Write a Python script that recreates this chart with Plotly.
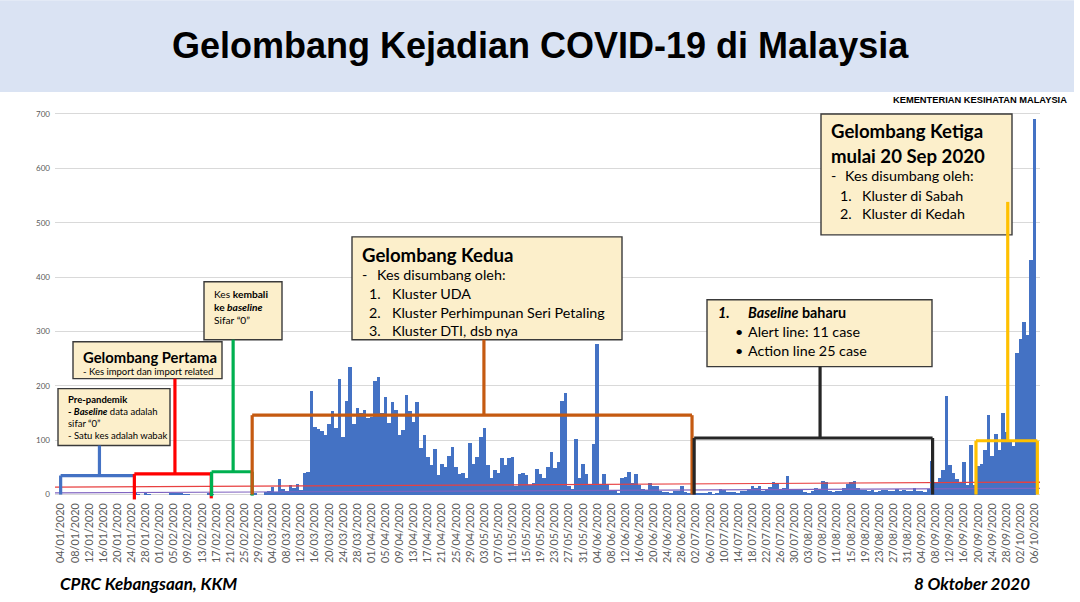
import plotly.graph_objects as go
from datetime import datetime, timedelta

# ---------------- data ----------------
START = datetime(2020, 1, 4)
cases_jan = [0]*21 + [3, 1, 0, 3, 1, 0, 0]                      # 04/01 - 31/01
cases_feb = [0, 0, 0, 2, 2, 2, 2, 1, 1, 0, 0, 0, 0, 0, 2, 1,
             0, 0, 0, 0, 0, 0, 0, 0, 0, 0, 1, 2, 0]
cases_mar = [0, 4, 7, 14, 5, 28, 10, 6, 18, 12, 20, 9, 39, 41, 190, 125, 120, 117,
             110, 130, 153, 123, 212, 106, 172, 235, 130, 159, 150, 156, 140]
cases_apr = [142, 208, 217, 150, 179, 131, 170, 156, 109, 118, 184, 153, 134, 170, 85,
             110, 69, 54, 84, 36, 57, 50, 71, 88, 51, 38, 40, 31, 94, 57]
cases_may = [69, 105, 122, 55, 30, 45, 39, 68, 54, 67, 70, 16, 37, 40, 36, 17, 22, 47,
             37, 31, 50, 78, 48, 60, 172, 187, 15, 10, 103, 30, 57]
cases_jun = [38, 20, 93, 277, 19, 37, 19, 7, 7, 2, 31, 33, 41, 22, 38, 17, 10, 8, 22,
             16, 15, 6, 5, 4, 3, 6, 7, 16, 5, 3]
cases_jul = [1, 2, 3, 3, 3, 4, 1, 2, 10, 8, 4, 4, 5, 2, 6, 7, 10, 15, 12, 15, 7, 8, 14,
             23, 21, 9, 12, 35, 8, 10, 8]
cases_aug = [9, 4, 2, 7, 12, 10, 25, 23, 7, 4, 6, 6, 13, 20, 24, 25, 13, 9, 9, 6, 8, 5,
             7, 8, 9, 6, 7, 10, 6, 9, 7]
cases_sep = [6, 13, 6, 7, 5, 10, 62, 22, 30, 45, 182, 55, 40, 28, 22, 59, 17, 92, 17, 52,
             57, 82, 147, 71, 111, 82, 150, 115, 101, 89]
cases_oct = [260, 287, 317, 293, 432, 691]

cases = (cases_jan + cases_feb + cases_mar + cases_apr + cases_may + cases_jun +
         cases_jul + cases_aug + cases_sep + cases_oct)
dates = [START + timedelta(days=i) for i in range(len(cases))]

# trend lines (value at left / right edge of plot)
red_line = [13.5, 23.0]
purple_line = [3.0, 11.5]

# ---------------- layout helpers ----------------
W, H = 1080, 602
L, R, T, B = 55, 40, 108, 101.5
PW, PH = W - L - R, H - T - B
Y0, Y1 = -10, 711
X0_DAY, X1_DAY = -1.70, 277.55


def d2s(day):
    return (START + timedelta(days=day)).strftime("%Y-%m-%d %H:%M:%S")


def fx(px):
    return (px - L) / PW


def fy(py):
    return (H - B - py) / PH


def val(py):
    return Y0 + (H - B - py) / PH * (Y1 - Y0)


fig = go.Figure()
fig.add_trace(go.Bar(x=dates, y=cases, marker_color="#4472C4",
                     marker_line_width=0, showlegend=False))

xl, xr = d2s(X0_DAY), d2s(X1_DAY)
fig.add_trace(go.Scatter(x=[xl, xr], y=red_line, mode="lines",
                         line=dict(color="#E84040", width=1.2), showlegend=False))
fig.add_trace(go.Scatter(x=[xl, xr], y=purple_line, mode="lines",
                         line=dict(color="#8064C0", width=1.2), showlegend=False))

shapes = []
# banner
shapes.append(dict(type="rect", xref="paper", yref="paper", x0=fx(0), x1=fx(1074),
                   y0=fy(92), y1=fy(0), fillcolor="#DAE3F3", line_width=0, layer="below"))

# text boxes (pixel rects)
boxes = [(58, 389, 170, 446), (73, 342, 222, 379), (204, 282, 282, 340),
         (352, 237, 622, 340), (707, 300, 932, 367), (821, 114, 1012, 235)]
for x0, y0, x1, y1 in boxes:
    shapes.append(dict(type="rect", xref="paper", yref="paper", x0=fx(x0), x1=fx(x1),
                       y0=fy(y1), y1=fy(y0), fillcolor="#FCEFCB",
                       line=dict(color="#3A3A3A", width=1.4)))

# brackets: color, left day, right day, top value, left bottom, right bottom, stem day, stem top px
brackets = [
    ("#4472C4", -0.1, 20.6, 35, 0, None, 10.9, 446),
    ("#FF0000", 20.8, 42.6, 38, -9, -7, 32.3, 379),
    ("#00B050", 42.7, 54.2, 42, -3, -2, 48.8, 340),
    ("#C55A11", 54.2, 178.9, 146, 0, 0, 119.9, 340),
    ("#262626", 179.5, 247.1, 104, 0, 0, 215.2, 367),
    ("#FFC000", 259.4, 276.8, 99, 0, 0, 268.4, 202),
]
for col, a, b, top, lb, rb, st, stpx in brackets:
    ln = dict(color=col, width=3.2)
    shapes.append(dict(type="line", xref="x", yref="y", x0=d2s(a), x1=d2s(b), y0=top, y1=top, line=ln))
    shapes.append(dict(type="line", xref="x", yref="y", x0=d2s(a), x1=d2s(a), y0=lb, y1=top, line=ln))
    if rb is not None:
        shapes.append(dict(type="line", xref="x", yref="y", x0=d2s(b), x1=d2s(b), y0=rb, y1=top, line=ln))
    shapes.append(dict(type="line", xref="x", yref="y", x0=d2s(st), x1=d2s(st), y0=top, y1=val(stpx), line=ln))

FONT = "Lato"
S = 9.5    # small box text
M = 14.3   # medium box text
BIG = 18.6
texts = [
    # pre-pandemik
    (66, 400, "<b>Pre-pandemik</b>", S),
    (66, 412, "<b>- <i>Baseline</i></b> data adalah", S),
    (66, 424, "sifar “0”", S),
    (66, 436, "- Satu kes adalah wabak", S),
    # pertama
    (81, 357, "<b>Gelombang Pertama</b>", 14.8),
    (81, 372, "- Kes import dan import related", S),
    # kembali
    (212, 294, "Kes <b>kembali</b>", 10.2),
    (212, 307, "<b>ke <i>baseline</i></b>", 10.2),
    (212, 320, "Sifar “0”", 10.2),
    # kedua
    (360, 255, "<b>Gelombang Kedua</b>", BIG),
    (360, 275, "-", M), (375, 275, "Kes disumbang oleh:", M),
    (367, 294, "1.", M), (390, 294, "Kluster UDA", M),
    (367, 313, "2.", M), (390, 313, "Kluster Perhimpunan Seri Petaling", M),
    (367, 331, "3.", M), (390, 331, "Kluster DTI, dsb nya", M),
    # baseline baharu
    (716, 313, "<b><i>1.</i></b>", M),
    (746, 313, "<b><i>Baseline</i> baharu</b>", M),
    (733, 332, "•", M), (746, 332, "Alert line: 11 case", M),
    (733, 351, "•", M), (746, 351, "Action line 25 case", M),
    # ketiga
    (829, 131, "<b>Gelombang Ketiga</b>", BIG),
    (829, 156, "<b>mulai 20 Sep 2020</b>", BIG),
    (829, 176, "-", M), (843, 176, "Kes disumbang oleh:", M),
    (838, 196, "1.", M), (860, 196, "Kluster di Sabah", M),
    (838, 214, "2.", M), (860, 214, "Kluster di Kedah", M),
]
annotations = []
for x, y, t, s in texts:
    annotations.append(dict(xref="paper", yref="paper", x=fx(x), y=fy(y), text=t,
                            showarrow=False, xanchor="left", yanchor="middle",
                            font=dict(family=FONT, size=s, color="#000000")))

annotations.append(dict(xref="paper", yref="paper", x=fx(540), y=fy(45),
                        text="<b>Gelombang Kejadian COVID-19 di Malaysia</b>", showarrow=False,
                        xanchor="center", yanchor="middle",
                        font=dict(family="Liberation Sans", size=36, color="#000000")))
annotations.append(dict(xref="paper", yref="paper", x=fx(1069), y=fy(100),
                        text="<b>KEMENTERIAN KESIHATAN MALAYSIA</b>", showarrow=False,
                        xanchor="right", yanchor="middle",
                        font=dict(family="Liberation Sans", size=9.3, color="#000000")))
annotations.append(dict(xref="paper", yref="paper", x=fx(58), y=fy(584),
                        text="<b><i>CPRC Kebangsaan, KKM</i></b>", showarrow=False,
                        xanchor="left", yanchor="middle",
                        font=dict(family=FONT, size=17, color="#000000")))
annotations.append(dict(xref="paper", yref="paper", x=fx(1032), y=fy(584),
                        text="<b><i>8 Oktober 2020</i></b>", showarrow=False,
                        xanchor="right", yanchor="middle",
                        font=dict(family=FONT, size=17, color="#000000")))

fig.update_layout(
    width=W, height=H,
    margin=dict(l=L, r=R, t=T, b=B, pad=0),
    paper_bgcolor="white", plot_bgcolor="white",
    bargap=0, showlegend=False, hovermode=False,
    shapes=shapes, annotations=annotations,
    xaxis=dict(type="date", range=[xl, xr], tick0="2020-01-04", dtick=4 * 86400000,
               tickformat="%d/%m/%Y", tickangle=-90, showgrid=False, zeroline=False,
               ticks="", tickfont=dict(family=FONT, size=10.8, color="#595959"), showline=False),
    yaxis=dict(range=[Y0, Y1], tickvals=[0, 100, 200, 300, 400, 500, 600, 700],
               showgrid=True, gridcolor="#D9D9D9", gridwidth=1, zeroline=False,
               tickfont=dict(family=FONT, size=8, color="#595959"), ticks="",
               ticklabelstandoff=4),
)

fig.write_html("out.html", config={"displayModeBar": False, "staticPlot": True},
               post_script="document.body.style.margin='0';document.body.style.overflow='hidden';")
